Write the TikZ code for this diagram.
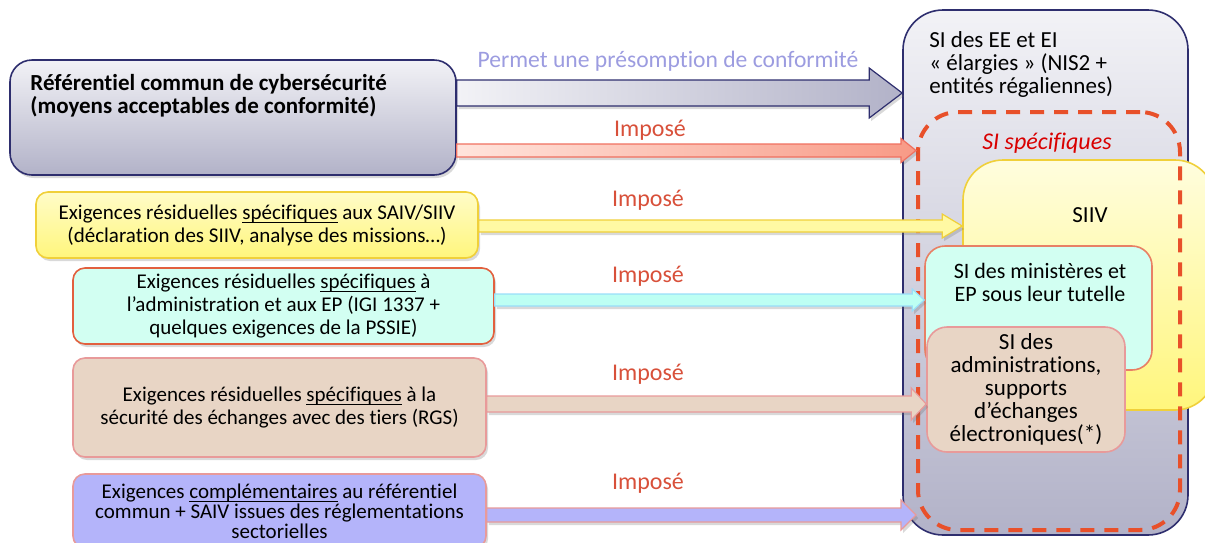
\documentclass[tikz,border=0pt]{standalone}
\usepackage{fontspec}
\setmainfont{Carlito}[Ligatures=NoCommon]
\usetikzlibrary{calc,shadows}
\definecolor{marine}{HTML}{2E2E6E}
\definecolor{grisH}{HTML}{F2F2F6}
\definecolor{grisB}{HTML}{B2B2C8}
\definecolor{lavande}{HTML}{9C9CE0}
\definecolor{rougetxt}{HTML}{D8503A}
\definecolor{tirets}{HTML}{E8502A}
\definecolor{jauneH}{HTML}{FFFCC8}
\definecolor{jauneB}{HTML}{FFF67C}
\definecolor{jauneBord}{HTML}{F0D03A}
\definecolor{cyanF}{HTML}{D2FFF2}
\definecolor{cyanBord}{HTML}{E2603E}
\definecolor{beigeF}{HTML}{E8D5C5}
\definecolor{roseBord}{HTML}{E89A9A}
\definecolor{violetF}{HTML}{B4B4FA}
\definecolor{saumonH}{HTML}{FFE4DC}
\definecolor{saumonB}{HTML}{F89A86}
\definecolor{saumonBord}{HTML}{F07060}

\newcommand{\souligne}[1]{{\setbox0\hbox{#1}\rlap{\rule[-1.7pt]{\wd0}{0.45pt}}\box0}}
\newcommand{\fleche}[7]{%
  \coordinate (#2-#3-a) at (#2.east |- 0,#4);
  \coordinate (#2-#3-b) at (#3.west |- 0,#4);
  \path[#1] ($(#2-#3-a)+(0,-#5)$) -- ($(#2-#3-b)+(-#7,-#5)$) -- ($(#2-#3-b)+(-#7,-#6)$) -- (#2-#3-b)
    -- ($(#2-#3-b)+(-#7,#6)$) -- ($(#2-#3-b)+(-#7,#5)$) -- ($(#2-#3-a)+(0,#5)$) -- cycle;}

\begin{document}
\begin{tikzpicture}[x=0.5pt,y=-0.5pt,
  ombre/.style={drop shadow={shadow xshift=1pt,shadow yshift=-1.5pt,opacity=.25,fill=black!60}},
  boite/.style={rectangle, rounded corners=6pt, line width=0.8pt, ombre, align=center,
    font=\fontsize{10.5}{11.5}\selectfont, inner sep=2pt},
  impose/.style={text=rougetxt, font=\fontsize{12}{14}\selectfont},
  fleche/.style={draw, line width=0.6pt, ombre}]
\clip (0,0) rectangle (1205,542);
\useasboundingbox (0,0) rectangle (1205,542);
\node[rectangle, rounded corners=20pt, draw=marine, line width=0.8pt, top color=grisH, bottom color=grisB, minimum width=142.5pt, minimum height=262.5pt] (siee) at (1045.5,272.5){};
\node[anchor=north west, inner sep=0pt, align=left, font=\fontsize{11.5}{11.5}\selectfont] (sieetxt) at (929,31){SI des EE et EI\\« élargies » (NIS2 +\\entités régaliennes)};
\node[rectangle, rounded corners=20pt, draw=jauneBord, line width=0.8pt, top color=jauneH!60!white, bottom color=jauneB, minimum width=126pt, minimum height=125pt] (siiv) at (1089,285){};
\node[font=\fontsize{11.5}{12}\selectfont] (siivtxt) at (1090,215){SIIV};
\node[rectangle, rounded corners=10pt, draw=cyanBord!80!white, line width=0.8pt, fill=cyanF, minimum width=113.5pt, minimum height=62pt] (min) at (1038.5,308){};
\node[align=center, font=\fontsize{11}{11.5}\selectfont] (mintxt) at (1040,282){SI des ministères et\\EP sous leur tutelle};
\node[rectangle, rounded corners=10pt, draw=roseBord, line width=0.8pt, fill=beigeF, minimum width=99pt, minimum height=62.5pt, align=center, font=\fontsize{11.5}{11.5}\selectfont, inner sep=0pt] (adm) at (1026,389.5){SI des\\administrations,\\supports\\d’échanges\\électroniques(*)};
\node[rectangle, rounded corners=20pt, draw=tirets, line width=2pt, dash pattern=on 7pt off 5pt, minimum width=131pt, minimum height=209pt] (spec) at (1049,321){};
\node[text=red!85!black, font=\itshape\fontsize{12}{13}\selectfont] (spectxt) at (1047,143){SI spécifiques};

\node[boite, rounded corners=11pt, draw=marine, top color=grisH, bottom color=grisB, minimum width=223pt, minimum height=57.5pt] (ref) at (233,117.5){};
\node[anchor=north west, inner sep=0pt, align=left, font=\bfseries\fontsize{11.5}{11.5}\selectfont] (reftxt) at (30,74){Référentiel commun de cybersécurité\\(moyens acceptables de conformité)};
\node[boite, draw=jauneBord, top color=jauneH, bottom color=jauneB, minimum width=221pt, minimum height=33pt] (exsiiv) at (257,225){Exigences résiduelles \souligne{spécifiques} aux SAIV/SIIV\\(déclaration des SIIV, analyse des missions…)};
\node[boite, draw=cyanBord, fill=cyanF, minimum width=210.5pt, minimum height=38pt] (exadm) at (283.5,306){Exigences résiduelles \souligne{spécifiques} à\\l’administration et aux EP (IGI 1337 +\\quelques exigences de la PSSIE)};
\node[boite, draw=roseBord, fill=beigeF, minimum width=206.5pt, minimum height=49.5pt] (exrgs) at (279.5,407.5){Exigences résiduelles \souligne{spécifiques} à la\\sécurité des échanges avec des tiers (RGS)};
\node[boite, draw=roseBord, fill=violetF, minimum width=206.5pt, minimum height=37pt, font=\fontsize{10.5}{10}\selectfont] (excomp) at (279.5,511){Exigences \souligne{complémentaires} au référentiel\\commun + SAIV issues des réglementations\\sectorielles};

\fleche{fleche, draw=marine, left color=grisH, right color=grisB}{ref}{siee}{93}{13}{25}{33}
\fleche{fleche, draw=saumonBord, left color=saumonH, right color=saumonB}{ref}{spec}{150.5}{6.5}{12}{15}
\fleche{fleche, draw=jauneBord, fill=jauneB!70!white}{exsiiv}{siiv}{226}{6}{12}{20}
\fleche{fleche, draw=cyan!40!white, fill=cyanF!90!cyan}{exadm}{min}{300}{6}{11}{12}
\fleche{fleche, draw=roseBord, fill=beigeF}{exrgs}{adm}{404}{8}{16}{15}
\fleche{fleche, draw=roseBord, fill=violetF}{excomp}{spec}{515}{7}{15}{15}

\node[text=lavande, font=\fontsize{11.8}{13}\selectfont] (permet) at (668,61){Permet une présomption de conformité};
\node[impose] (imp1) at (650,130){Imposé};
\node[impose] (imp2) at (648,200){Imposé};
\node[impose] (imp3) at (648,276){Imposé};
\node[impose] (imp4) at (648,374){Imposé};
\node[impose] (imp5) at (648,483){Imposé};
\end{tikzpicture}
\end{document}
